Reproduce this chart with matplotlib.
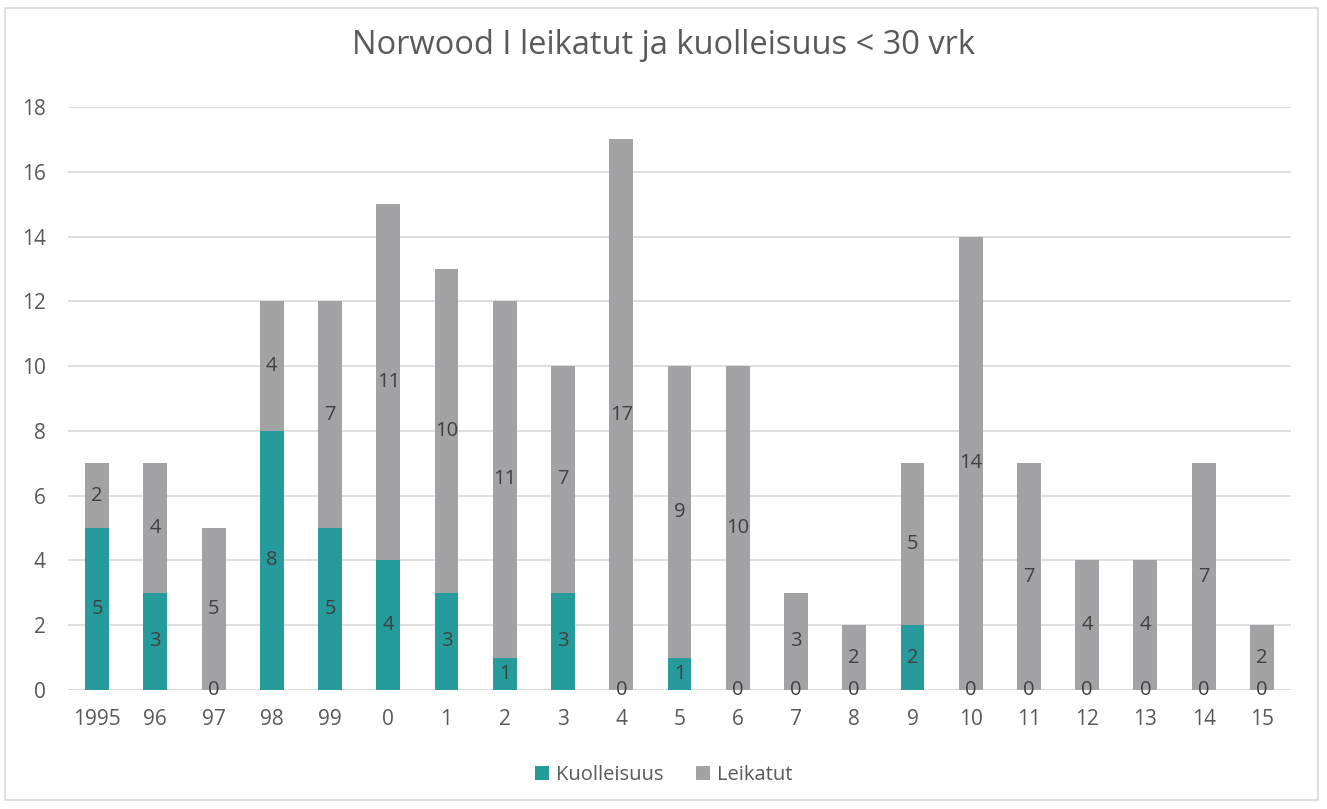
import matplotlib
matplotlib.use("Agg")
import matplotlib.pyplot as plt
from matplotlib.patches import Rectangle

years = ["1995", "96", "97", "98", "99", "0", "1", "2", "3", "4", "5",
         "6", "7", "8", "9", "10", "11", "12", "13", "14", "15"]
kuolleisuus = [5, 3, 0, 8, 5, 4, 3, 1, 3, 0, 1, 0, 0, 0, 2, 0, 0, 0, 0, 0, 0]
leikatut = [2, 4, 5, 4, 7, 11, 10, 11, 7, 17, 9, 10, 3, 2, 5, 14, 7, 4, 4, 7, 2]

TEAL = "#279B9C"
GRAY = "#A3A3A6"
TXT = "#595959"
LBL = "#404040"

plt.rcParams['font.family'] = ['Open Sans', 'DejaVu Sans']

fig = plt.figure(figsize=(13.27, 8.09), dpi=100)
ax = fig.add_axes([68/1327, 1-690/809, (1291-68)/1327, (690-107)/809])

x = list(range(len(years)))
w = 0.41
b1 = ax.bar(x, kuolleisuus, w, color=TEAL, label="Kuolleisuus", zorder=3)
b2 = ax.bar(x, leikatut, w, bottom=kuolleisuus, color=GRAY, label="Leikatut", zorder=3)

for i in x:
    k = kuolleisuus[i]
    l = leikatut[i]
    ax.text(i, k/2, str(k), ha="center", va="center", fontsize=14.5, color=LBL, zorder=4)
    ax.text(i, k + l/2, str(l), ha="center", va="center", fontsize=14.5, color=LBL, zorder=4)

ax.set_xlim(-0.5, len(years)-0.5)
ax.set_ylim(0, 18)
ax.set_yticks(range(0, 19, 2))
ax.set_xticks(x)
ax.set_xticklabels(years)
ax.tick_params(axis="both", length=0, labelsize=15, labelcolor=TXT)
ax.tick_params(axis="x", pad=14)
ax.tick_params(axis="y", pad=16)
ax.grid(axis="y", color="#D9D9D9", linewidth=1.2, zorder=0)
for s in ax.spines.values():
    s.set_visible(False)
ax.axhline(0, color="#D9D9D9", linewidth=1.2, zorder=2)

fig.text(0.5, 1-46/809, "Norwood I leikatut ja kuolleisuus < 30 vrk",
         ha="center", va="center", fontsize=23.5, color=TXT)

leg = fig.legend(handles=[b1, b2], labels=["Kuolleisuus", "Leikatut"],
                 loc="center", bbox_to_anchor=(0.5, 1-775/809), ncol=2,
                 frameon=False, fontsize=14.5, handlelength=0.7, handleheight=0.7,
                 handletextpad=0.35, columnspacing=1.6)
for t in leg.get_texts():
    t.set_color(TXT)

fig.patches.append(Rectangle((5/1327, 1-800/809), (1318-5)/1327, (800-8)/809,
                             transform=fig.transFigure, fill=False,
                             edgecolor="#D9D9D9", linewidth=1.2))

fig.savefig("out.png", dpi=100, facecolor="white")
